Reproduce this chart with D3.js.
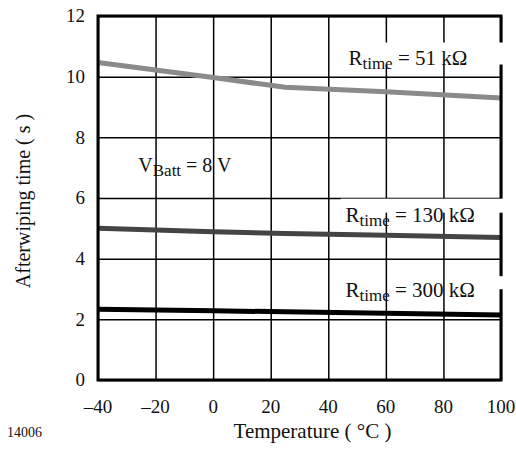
<!DOCTYPE html>
<html>
<head>
<meta charset="utf-8">
<script src="https://cdn.jsdelivr.net/npm/d3@7"></script>
<style>
  body { margin: 0; background: #fff; }
  svg text { font-family: "Liberation Serif", "Times New Roman", serif; fill: #111; }
</style>
</head>
<body>
<div id="chart"></div>
<script>
// afterwiping time vs temperature, one curve per R_time
const temps51 = [-40, 0, 25, 60, 100]
const time51 = [10.47, 9.97, 9.65, 9.5, 9.3]
const temps130 = [-40, 0, 25, 60, 100]
const time130 = [5.0, 4.89, 4.83, 4.77, 4.7]
const temps300 = [-40, 0, 25, 60, 100]
const time300 = [2.33, 2.28, 2.25, 2.2, 2.14]

const xTicks = [-40, -20, 0, 20, 40, 60, 80, 100]
const yTicks = [0, 2, 4, 6, 8, 10, 12]

const seriesNames = ['51', '130', '300']
const seriesColors = ['#8a8a8a', '#444444', '#000000']

// label anchor points in data units (temperature, seconds)
const labelTemps = [47, 46, 46]
const labelTimes = [10.4, 5.22, 2.73]

const margin = {top: 16, right: 15, bottom: 72, left: 98}
const svgWidth = 516, svgHeight = 452
const width = svgWidth - margin.left - margin.right
const height = svgHeight - margin.top - margin.bottom

const x = d3.scaleLinear().domain([-40, 100]).range([0, width])
const y = d3.scaleLinear().domain([0, 12]).range([height, 0])

const svg = d3.select('#chart').append('svg')
    .attr('width', svgWidth)
    .attr('height', svgHeight)

const g = svg.append('g')
    .attr('transform', `translate(${margin.left},${margin.top})`)

// grid
g.append('g')
    .attr('class', 'grid')
    .attr('transform', `translate(0,${height})`)
    .call(d3.axisBottom(x).tickValues(xTicks).tickSize(-height).tickFormat(''))
    .call(s => s.select('.domain').remove())
    .selectAll('line').attr('stroke', '#000').attr('stroke-width', 1.5)

g.append('g')
    .attr('class', 'grid')
    .call(d3.axisLeft(y).tickValues(yTicks).tickSize(-width).tickFormat(''))
    .call(s => s.select('.domain').remove())
    .selectAll('line').attr('stroke', '#000').attr('stroke-width', 1.5)

// curves
const series = [
    temps51.map((t, i) => [t, time51[i]]),
    temps130.map((t, i) => [t, time130[i]]),
    temps300.map((t, i) => [t, time300[i]])
]
const line = d3.line().x(d => x(d[0])).y(d => y(d[1]))

g.selectAll('path.curve')
    .data(series)
    .enter()
    .append('path')
    .attr('class', 'curve')
    .attr('d', line)
    .attr('fill', 'none')
    .attr('stroke', (d, i) => seriesColors[i])
    .attr('stroke-width', 5)

// frame
g.append('rect')
    .attr('width', width)
    .attr('height', height)
    .attr('fill', 'none')
    .attr('stroke', '#000')
    .attr('stroke-width', 3)

// white masks behind the R labels (they cut the right border)
const maskTop = [-22, -23, -21]
const maskBottom = [0, -9, -8]
const maskLeft = [-5, -5, 140]
g.selectAll('rect.mask')
    .data(seriesNames)
    .enter()
    .append('rect')
    .attr('class', 'mask')
    .attr('x', (d, i) => x(labelTemps[i]) + maskLeft[i])
    .attr('y', (d, i) => y(labelTimes[i]) + maskTop[i])
    .attr('width', (d, i) => width + 5 - x(labelTemps[i]) - maskLeft[i])
    .attr('height', (d, i) => maskBottom[i] - maskTop[i])
    .attr('fill', '#fff')

// R labels
const labels = g.selectAll('text.rlabel')
    .data(seriesNames)
    .enter()
    .append('text')
    .attr('class', 'rlabel')
    .attr('x', (d, i) => x(labelTemps[i]))
    .attr('y', (d, i) => y(labelTimes[i]))
    .style('font-size', '21px')
labels.append('tspan').text('R')
labels.append('tspan').attr('dy', 4).style('font-size', '17px').text('time')
labels.append('tspan').attr('dy', -4).text(d => ` = ${d} k\u03a9`)

// V_Batt label
const vb = g.append('text')
    .attr('x', x(-26))
    .attr('y', y(6.85))
    .style('font-size', '20px')
vb.append('tspan').text('V')
vb.append('tspan').attr('dy', 4).style('font-size', '17px').text('Batt')
vb.append('tspan').attr('dy', -4).text(' = 8 V')

// tick labels
g.selectAll('text.xtick')
    .data(xTicks)
    .enter()
    .append('text')
    .attr('class', 'xtick')
    .attr('x', d => x(d))
    .attr('y', height + 33)
    .attr('text-anchor', 'middle')
    .style('font-size', '19px')
    .text(d => d < 0 ? '\u2013' + Math.abs(d) : d)

g.selectAll('text.ytick')
    .data(yTicks)
    .enter()
    .append('text')
    .attr('class', 'ytick')
    .attr('x', -13)
    .attr('y', d => y(d))
    .attr('dy', '0.33em')
    .attr('text-anchor', 'end')
    .style('font-size', '19px')
    .text(d => d)

// axis titles
g.append('text')
    .attr('text-anchor', 'middle')
    .attr('x', width / 2 + 13)
    .attr('y', height + 58)
    .style('font-size', '21px')
    .text('Temperature ( \u00b0C )')

g.append('text')
    .attr('text-anchor', 'middle')
    .attr('transform', `translate(${-68},${height / 2 + 3})rotate(-90)`)
    .style('font-size', '20px')
    .text('Afterwiping time ( s )')

svg.append('text')
    .attr('x', 7)
    .attr('y', 437)
    .style('font-size', '14px')
    .text('14006')
</script>
</body>
</html>
